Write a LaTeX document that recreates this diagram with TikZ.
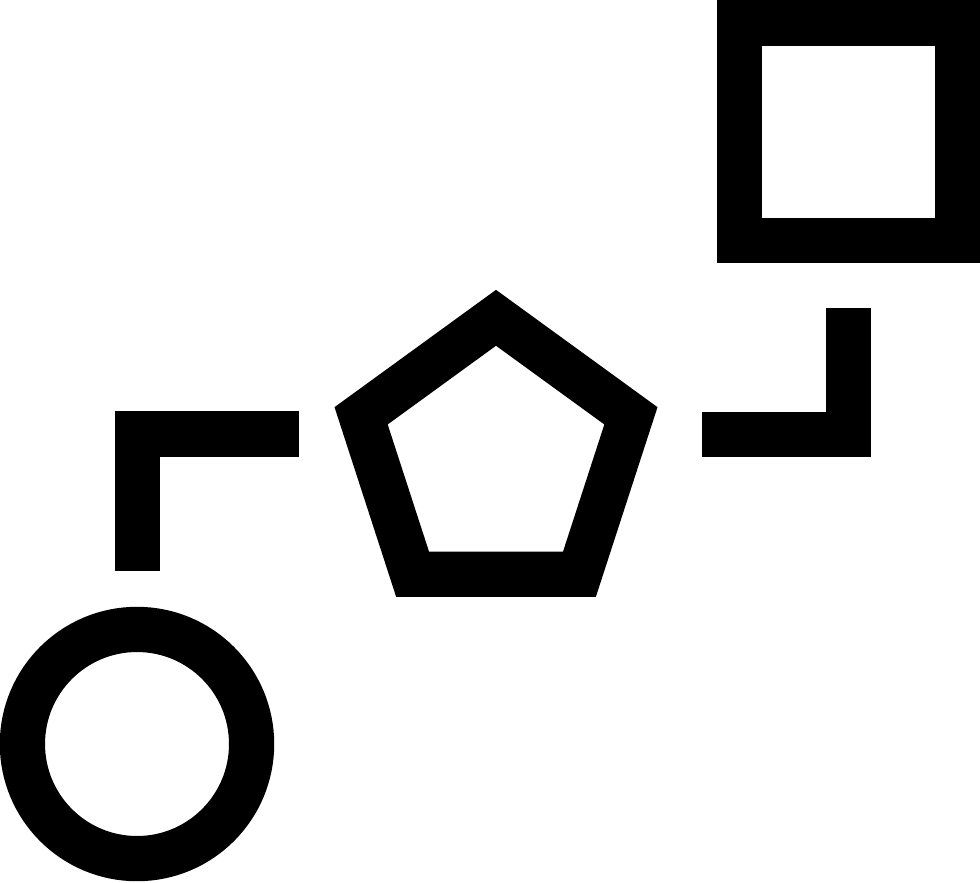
\documentclass[tikz,border=0pt]{standalone}
\begin{document}
\begin{tikzpicture}[x=0.01cm,y=-0.01cm,
  icon/.style={draw=black,line width=0.452cm,line join=miter,line cap=butt}]
\useasboundingbox (0,0) rectangle (980,882);
% shapes
\draw[icon] (137,744) circle[radius=114.6];
\draw[icon] (739.5,23.1) rectangle (957.5,240.8);
\draw[icon] (496,317.8) -- (630.9,415.8) -- (579.4,574.3) -- (412.6,574.3) -- (361.1,415.8) -- cycle;
% connectors
\coordinate (la) at (137.3,570.5);
\coordinate (lb) at (137.3,434);
\coordinate (lc) at (299.3,434);
\coordinate (ra) at (702.4,434.3);
\coordinate (rb) at (848.4,434.3);
\coordinate (rc) at (848.4,308.3);
\draw[icon] (la) -- (lb) -- (lc);
\draw[icon] (ra) -- (rb) -- (rc);
\end{tikzpicture}
\end{document}
